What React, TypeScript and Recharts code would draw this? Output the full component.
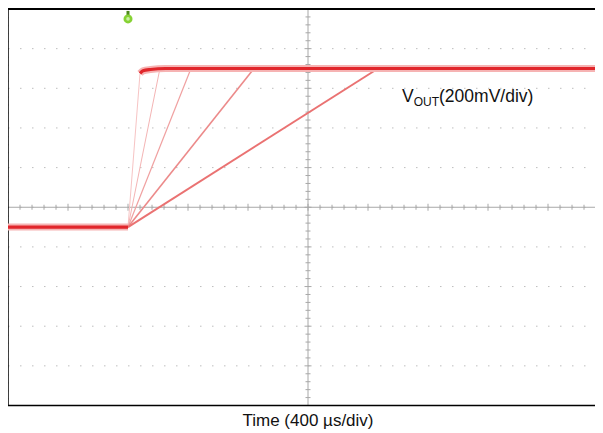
import React from "react";
import {
  LineChart,
  Line,
  XAxis,
  YAxis,
  CartesianGrid,
  ReferenceLine,
  ReferenceDot,
  Customized,
} from "recharts";

// time in µs (400 µs/div), voltage in V (200 mV/div)
const xTicks = [0, 400, 800, 1200, 1600, 2000, 2400, 2800, 3200, 3600, 4000];
const yTicks = [0, 0.2, 0.4, 0.6, 0.8, 1.0, 1.2, 1.4, 1.6, 1.8, 2.0];

const triggerT = 800;
const lowLevel = 0.9;

// soft-start ramps: end time of each trace and the level it reaches
const rampEndT = [880, 1013, 1220, 1640, 2467];
const rampEndV = [1.675, 1.7, 1.7, 1.7, 1.7];
const rampColor = ["#f7c4c4", "#f4b4b4", "#f0a0a0", "#ec8a8a", "#ea7272"];
const rampWidth = [1, 1, 1.2, 1.6, 2];

// steady levels (overlapping traces, drawn thick)
const lowT = [0, 800];
const lowV = [0.9, 0.9];
const settleT = [880, 900, 950, 1050, 4000];
const settleV = [1.675, 1.688, 1.695, 1.7, 1.7];

const lowData = lowT.map((t, i) => ({ t, v: lowV[i] }));
const settleData = settleT.map((t, i) => ({ t, v: settleV[i] }));
const ramps = rampEndT.map((end, i) => [
  { t: triggerT, v: lowLevel },
  { t: end, v: rampEndV[i] },
]);

const FONT = "'Liberation Sans', Arial, Helvetica, sans-serif";

// center cross with minor ticks every 1/5 division
const CrossLine = (props: any) => {
  const { x1, y1, x2, y2 } = props;
  const horiz = Math.abs(y1 - y2) < 0.5;
  const n = 50;
  const marks = [];
  for (let i = 1; i < n; i++) {
    const len = i % 5 === 0 ? 3.5 : 2.5;
    if (horiz) {
      const x = x1 + ((x2 - x1) * i) / n;
      marks.push(<line key={i} x1={x} x2={x} y1={y1 - len} y2={y1 + len} />);
    } else {
      const y = y1 + ((y2 - y1) * i) / n;
      marks.push(<line key={i} y1={y} y2={y} x1={x1 - len} x2={x1 + len} />);
    }
  }
  return (
    <g stroke="#a8a8a8" strokeWidth={1}>
      <line x1={x1} y1={y1} x2={x2} y2={y2} />
      {marks}
    </g>
  );
};

const TriggerMark = (props: any) => {
  const { cx, cy } = props;
  return (
    <g>
      <rect x={cx - 1.5} y={cy - 8} width={3} height={5} fill="#4e8a1c" />
      <circle cx={cx} cy={cy} r={4.5} fill="#86d234" />
      <circle cx={cx} cy={cy} r={1.8} fill="#c9f0a0" />
    </g>
  );
};

const Texts = () => (
  <g fontFamily={FONT} fill="#111">
    <text x={394} y={94} fontSize={17.5}>
      V
      <tspan fontSize={12} dy={4}>
        OUT
      </tspan>
      <tspan fontSize={17.5} dy={-4}>
        (200mV/div)
      </tspan>
    </text>
    <text x={300} y={418} fontSize={17} textAnchor="middle">
      Time (400 µs/div)
    </text>
  </g>
);

export default function App() {
  return (
    <div style={{ width: 595, height: 425, overflow: "hidden" }}>
      <LineChart
        width={600}
        height={425}
        margin={{ top: 1, right: 0, bottom: 0, left: 0 }}
      >
        <CartesianGrid
          horizontal={true}
          vertical={false}
          stroke="#bdbdbd"
          strokeDasharray="1.5 10.5"
        />
        <CartesianGrid
          horizontal={false}
          vertical={true}
          stroke="#bdbdbd"
          strokeDasharray="1.5 6.44"
        />
        <XAxis
          dataKey="t"
          type="number"
          domain={[0, 4000]}
          ticks={xTicks}
          tick={false}
          tickLine={false}
          height={27.5}
          axisLine={{ stroke: "#000", strokeWidth: 1.5 }}
          allowDuplicatedCategory={false}
        />
        <YAxis type="number" domain={[0, 2]} ticks={yTicks} hide />
        <ReferenceLine y={1.0} shape={CrossLine} />
        <ReferenceLine x={2000} shape={CrossLine} />
        <ReferenceLine x={0} stroke="#000" strokeWidth={1.5} />
        <ReferenceLine
          y={2.0}
          stroke="#000"
          strokeWidth={2}
          ifOverflow="visible"
        />

        {ramps.map((d, i) => (
          <Line
            key={"r" + i}
            data={d}
            dataKey="v"
            type="linear"
            stroke={rampColor[i]}
            strokeWidth={rampWidth[i]}
            dot={false}
            activeDot={false}
            isAnimationActive={false}
          />
        ))}

        <Line
          data={lowData}
          dataKey="v"
          type="linear"
          stroke="#f6b3b3"
          strokeWidth={7}
          dot={false}
          activeDot={false}
          isAnimationActive={false}
        />
        <Line
          data={lowData}
          dataKey="v"
          type="linear"
          stroke="#e1262b"
          strokeWidth={3.2}
          dot={false}
          activeDot={false}
          isAnimationActive={false}
        />
        <Line
          data={settleData}
          dataKey="v"
          type="monotone"
          stroke="#f6b3b3"
          strokeWidth={7}
          dot={false}
          activeDot={false}
          isAnimationActive={false}
        />
        <Line
          data={settleData}
          dataKey="v"
          type="monotone"
          stroke="#e1262b"
          strokeWidth={3.2}
          dot={false}
          activeDot={false}
          isAnimationActive={false}
        />

        <ReferenceDot x={triggerT} y={1.95} r={4} shape={TriggerMark} />
        <Customized component={Texts} />
      </LineChart>
    </div>
  );
}
